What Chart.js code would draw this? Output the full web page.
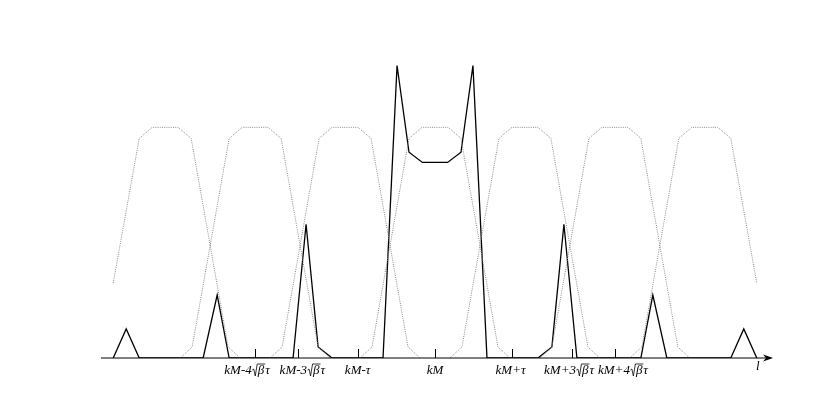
<!DOCTYPE html>
<html>
<head>
<meta charset="utf-8">
<script src="https://cdn.jsdelivr.net/npm/chart.js@4"></script>
<style>
  html, body { margin: 0; padding: 0; background: #fff; }
  #wrap { width: 830px; height: 393px; }
</style>
</head>
<body>
<div id="wrap"><canvas id="chart"></canvas></div>
<script>
// x in units of sqrt(beta)*tau, centred on kM; y normalised to the dotted plateau
const bumpCenters = [-6, -4, -2, 0, 2, 4, 6];
const bumpDx = [-1.667, -1.4, -0.578, -0.289, 0.289, 0.578, 1.4, 1.667];
const bumpLevel = [0, 0.048, 0.952, 1, 1, 0.952, 0.048, 0];
const edgeX = 7.156;
const edgeLevel = 0.325;

const signalX = [-7.156, -6.867, -6.578, -5.156, -4.844, -4.578, -3.156, -2.867, -2.6, -2.289,
  -1.156, -0.844, -0.578, -0.28, 0.28, 0.578, 0.844, 1.156,
  2.289, 2.6, 2.867, 3.156, 4.578, 4.844, 5.156, 6.578, 6.867, 7.156];
const signalY = [0, 0.126, 0, 0, 0.273, 0, 0, 0.58, 0.048, 0,
  0, 1.268, 0.892, 0.848, 0.848, 0.892, 1.268, 0,
  0, 0.048, 0.58, 0, 0, 0.273, 0, 0, 0.126, 0];

const tickVals = [-4, -3.05, -1.72, 0, 1.72, 3.05, 4];
// label parts: [before root, under the root bar, after]
const tickLabels = [
  ['kM-4', 'β', 'τ'], ['kM-3', 'β', 'τ'], ['kM-τ', '', ''], ['kM', '', ''],
  ['kM+τ', '', ''], ['kM+3', 'β', 'τ'], ['kM+4', 'β', 'τ']
];
const labelAt = [-4.19, -2.96, -1.72, 0, 1.68, 2.97, 4.17];
const axisName = 'l';

const serif = '"Liberation Serif", "DejaVu Serif", serif';

// one dotted bump per centre, cut at the ends of the signal range
const bumpSets = bumpCenters.map(c => {
  let pts = bumpDx.map((d, i) => ({ x: c + d, y: bumpLevel[i] }))
    .filter(p => Math.abs(p.x) <= edgeX);
  if (c - bumpDx[bumpDx.length - 1] < -edgeX) pts.unshift({ x: -edgeX, y: edgeLevel });
  if (c + bumpDx[bumpDx.length - 1] > edgeX) pts.push({ x: edgeX, y: edgeLevel });
  return {
    data: pts,
    borderColor: '#8a8a8a',
    borderWidth: 1,
    borderDash: [1, 1.2],
    pointRadius: 0,
    tension: 0
  };
});

function drawLabel(ctx, parts, cx, base) {
  const [pre, root, post] = parts;
  const rootW = root ? 6 : 0; // radical sign drawn as strokes
  const w = ctx.measureText(pre).width + rootW + ctx.measureText(root).width + ctx.measureText(post).width;
  let x = cx - w / 2;
  ctx.fillText(pre, x, base);
  x += ctx.measureText(pre).width;
  if (root) {
    const top = base - 10;
    const rw = ctx.measureText(root).width;
    ctx.beginPath();
    ctx.moveTo(x + 0.5, base - 4);
    ctx.lineTo(x + 2, base - 5);
    ctx.lineTo(x + 3.5, base + 2);
    ctx.lineTo(x + 5.5, top);
    ctx.lineTo(x + rootW + rw + 1, top);
    ctx.stroke();
    x += rootW;
    ctx.fillText(root, x, base);
    x += rw + 1;
    ctx.fillText(post, x, base);
  }
}

const axisPlugin = {
  id: 'axisArrow',
  afterDatasetsDraw(chart) {
    const { ctx, chartArea, scales } = chart;
    const y0 = chartArea.bottom;
    ctx.save();
    ctx.strokeStyle = '#000';
    ctx.fillStyle = '#000';
    ctx.lineWidth = 1;
    ctx.beginPath();
    ctx.moveTo(chartArea.left + 1, y0);
    ctx.lineTo(chartArea.right + 1, y0);
    ctx.stroke();
    // arrow head
    ctx.beginPath();
    ctx.moveTo(chartArea.right + 3, y0);
    ctx.lineTo(chartArea.right - 7, y0 - 3.5);
    ctx.lineTo(chartArea.right - 4, y0);
    ctx.lineTo(chartArea.right - 7, y0 + 3.5);
    ctx.closePath();
    ctx.fill();
    // tick marks point up into the plot
    tickVals.forEach(v => {
      const x = Math.round(scales.x.getPixelForValue(v)) + 0.5;
      ctx.beginPath();
      ctx.moveTo(x, y0 - 9);
      ctx.lineTo(x, y0);
      ctx.stroke();
    });
    ctx.font = 'italic 13px ' + serif;
    ctx.textAlign = 'left';
    ctx.textBaseline = 'alphabetic';
    ctx.lineWidth = 0.8;
    tickLabels.forEach((parts, i) => {
      drawLabel(ctx, parts, scales.x.getPixelForValue(labelAt[i]), y0 + 16);
    });
    ctx.textAlign = 'center';
    ctx.fillText(axisName, scales.x.getPixelForValue(edgeX) + 1, y0 + 12);
    ctx.restore();
  }
};

new Chart(document.getElementById('chart'), {
  type: 'line',
  data: {
    datasets: [
      ...bumpSets,
      {
        data: signalX.map((x, i) => ({ x: x, y: signalY[i] })),
        borderColor: '#000',
        borderWidth: 1.3,
        pointRadius: 0,
        tension: 0
      }
    ]
  },
  options: {
    responsive: true,
    maintainAspectRatio: false,
    animation: false,
    layout: { padding: { left: 100, right: 60, top: 12, bottom: 35 } },
    plugins: { legend: { display: false }, tooltip: { enabled: false } },
    scales: {
      x: { type: 'linear', display: false, min: -7.45, max: 7.45 },
      y: { display: false, min: 0, max: 1.5 }
    }
  },
  plugins: [axisPlugin]
});
</script>
</body>
</html>
